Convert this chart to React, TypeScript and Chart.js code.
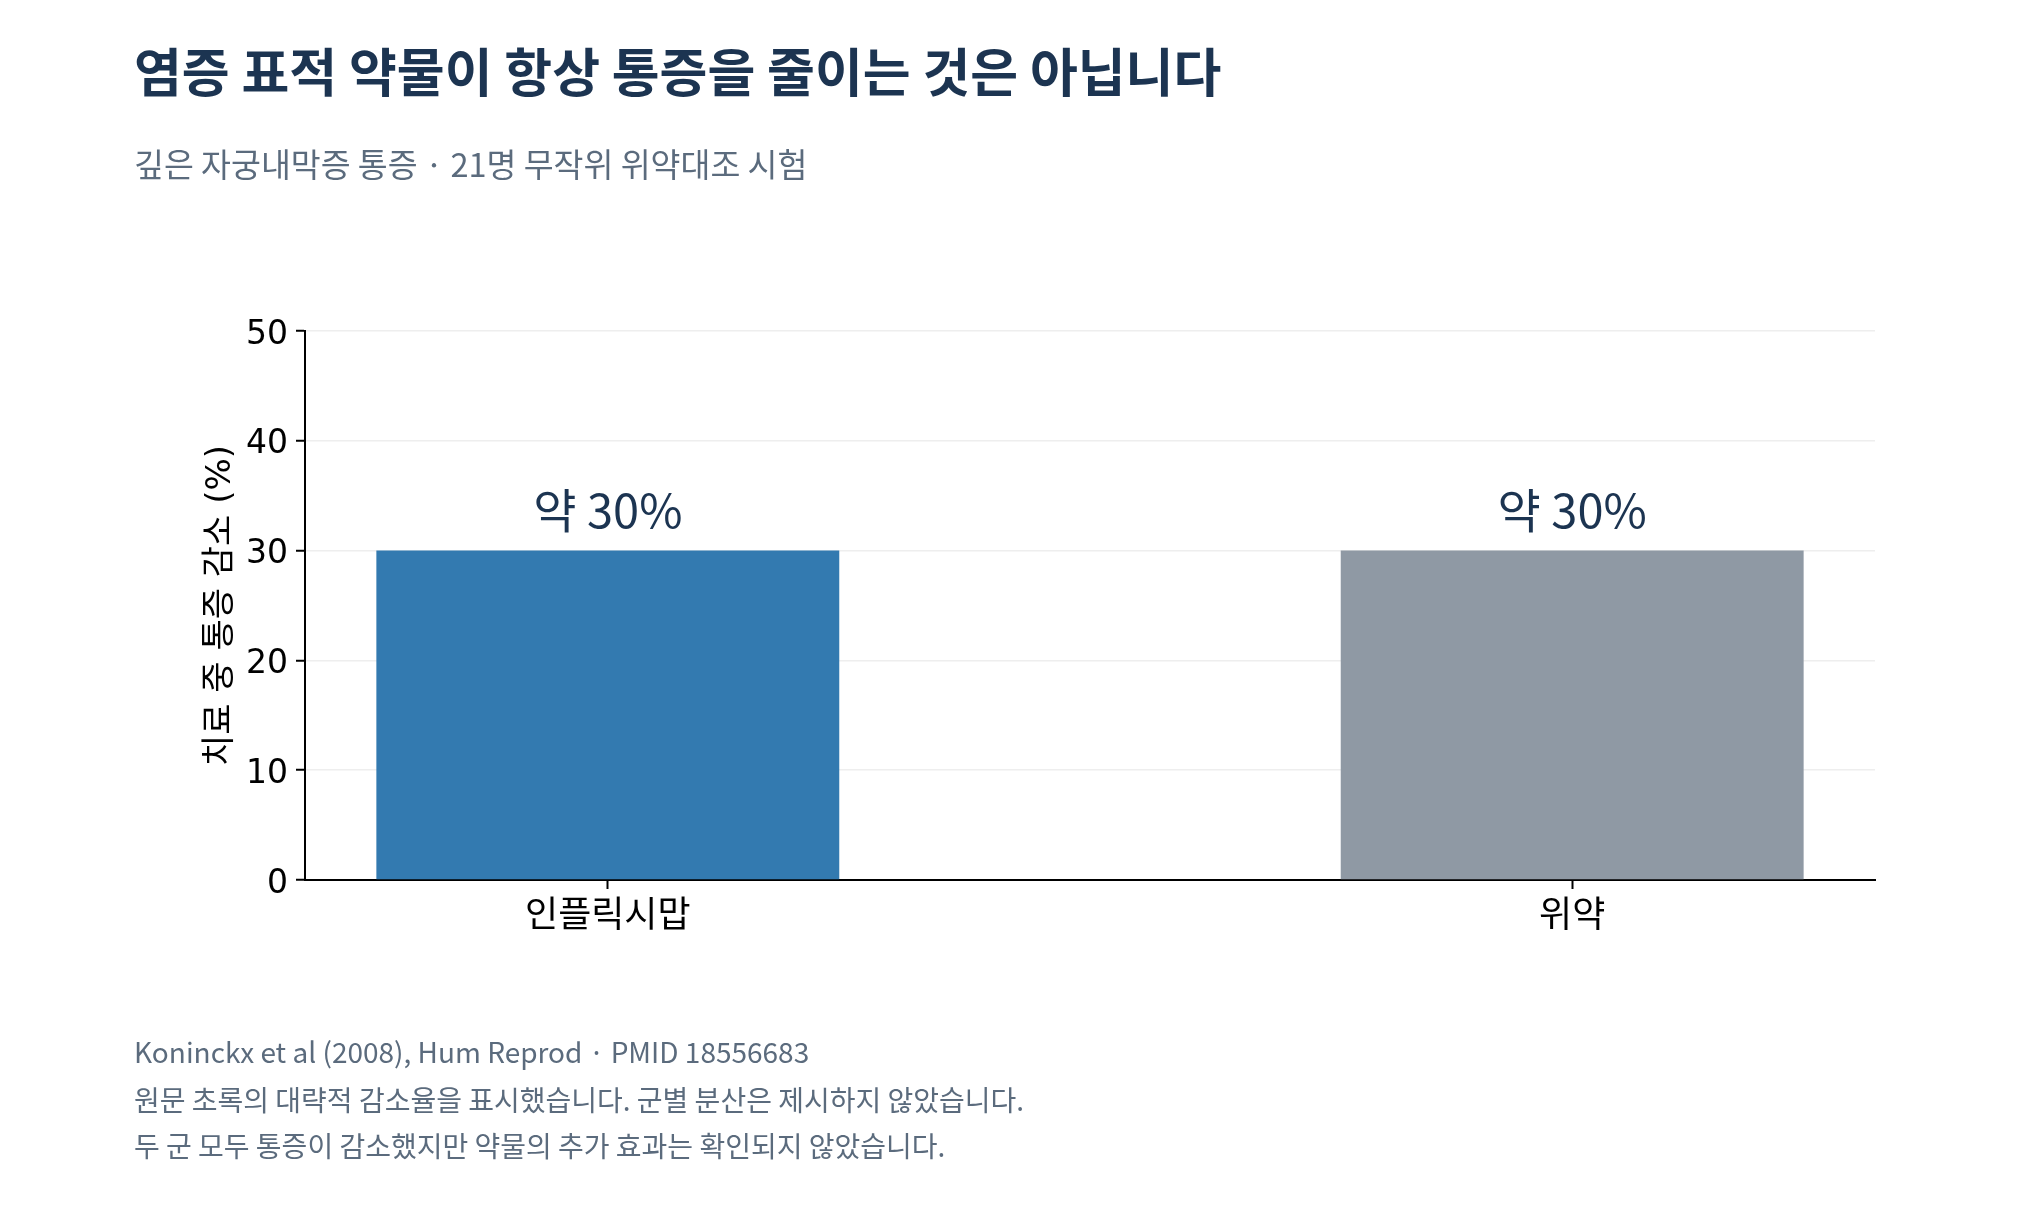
import React, { useEffect, useRef } from 'react';
import { Chart, registerables } from 'chart.js';

Chart.register(...registerables);

// Data
const categories = ['인플릭시맙', '위약'];
const reductionValues = [30, 30];
const valueLabels = ['약 30%', '약 30%'];
const barColors = ['#337ab0', '#8f99a4'];
const yTicks = [0, 10, 20, 30, 40, 50];

const titleText = '염증 표적 약물이 항상 통증을 줄이는 것은 아닙니다';
const subtitleText = '깊은 자궁내막증 통증 · 21명 무작위 위약대조 시험';
const yAxisTitle = '치료 중 통증 감소 (%)';
const footerLines = [
  'Koninckx et al (2008), Hum Reprod · PMID 18556683',
  '원문 초록의 대략적 감소율을 표시했습니다. 군별 분산은 제시하지 않았습니다.',
  '두 군 모두 통증이 감소했지만 약물의 추가 효과는 확인되지 않았습니다.',
];

const CJK = "'Noto Sans CJK KR'";
const AXIS_FONT = "'DejaVu Sans', 'Noto Sans CJK KR', sans-serif";
const NAVY = '#1c3451';
const MUTED = '#5b6b7d';

// Title, subtitle, footer and value labels drawn on the canvas
const textPlugin = {
  id: 'pageText',
  afterDatasetsDraw(chart: any) {
    const ctx = chart.ctx;
    const meta = chart.getDatasetMeta(0);
    ctx.save();
    ctx.font = `47px ${CJK}`;
    ctx.fillStyle = NAVY;
    ctx.textAlign = 'center';
    ctx.textBaseline = 'middle';
    meta.data.forEach((bar: any, i: number) => {
      ctx.fillText(valueLabels[i], bar.x, bar.y - 40);
    });
    ctx.restore();
  },
  afterDraw(chart: any) {
    const ctx = chart.ctx;
    ctx.save();
    ctx.textAlign = 'left';
    ctx.textBaseline = 'middle';

    ctx.font = `bold 52px ${CJK}`;
    ctx.fillStyle = NAVY;
    ctx.fillText(titleText, 134, 72);

    ctx.font = `32.5px ${CJK}`;
    ctx.fillStyle = MUTED;
    ctx.fillText(subtitleText, 134, 165);

    ctx.font = `28px ${CJK}`;
    const footerY = [1052, 1100, 1146];
    footerLines.forEach((line, i) => ctx.fillText(line, 134, footerY[i]));
    ctx.restore();
  },
};

const App: React.FC = () => {
  const canvasRef = useRef<HTMLCanvasElement>(null);
  const chartRef = useRef<Chart | null>(null);

  useEffect(() => {
    document.body.style.margin = '0';
    document.body.style.background = '#ffffff';
    const ctx = canvasRef.current?.getContext('2d');
    if (!ctx) return;

    if (chartRef.current) {
      chartRef.current.destroy();
    }

    chartRef.current = new Chart(ctx, {
      type: 'bar',
      data: {
        datasets: [
          {
            label: '통증 감소',
            data: categories.map((_, i) => ({ x: i, y: reductionValues[i] })),
            backgroundColor: barColors,
            borderWidth: 0,
            barPercentage: 0.48,
            categoryPercentage: 1,
          },
        ],
      },
      options: {
        animation: false,
        responsive: false,
        devicePixelRatio: 1,
        layout: {
          padding: { left: 185, right: 165, top: 331, bottom: 264 },
        },
        plugins: {
          legend: { display: false },
          tooltip: { enabled: false },
        },
        scales: {
          x: {
            type: 'linear',
            min: -0.314,
            max: 1.314,
            offset: false,
            afterBuildTicks: (scale: any) => {
              scale.ticks = categories.map((_, i) => ({ value: i }));
            },
            afterFit: (scale: any) => {
              scale.height = 80;
            },
            grid: {
              display: true,
              offset: false,
              drawOnChartArea: false,
              drawTicks: true,
              tickLength: 9,
              tickColor: '#000000',
              tickWidth: 2,
            },
            border: { display: true, color: '#000000', width: 2 },
            ticks: {
              callback: (value: any) => categories[Number(value)] ?? '',
              font: { family: AXIS_FONT, size: 36 },
              color: '#000000',
              padding: 7,
              maxRotation: 0,
              autoSkip: false,
            },
          },
          y: {
            min: 0,
            max: 50,
            afterBuildTicks: (scale: any) => {
              scale.ticks = yTicks.map((v) => ({ value: v }));
            },
            afterFit: (scale: any) => {
              scale.width = 120;
            },
            grid: {
              color: '#eeeeee',
              lineWidth: 1.5,
              tickColor: '#000000',
              tickLength: 9,
              tickWidth: 2,
            },
            border: { display: true, color: '#000000', width: 2 },
            ticks: {
              font: { family: AXIS_FONT, size: 33 },
              color: '#000000',
              padding: 8,
              labelOffset: 4,
            },
            title: {
              display: true,
              text: yAxisTitle,
              font: { family: AXIS_FONT, size: 34 },
              color: '#000000',
              padding: { top: 16, bottom: 0 },
            },
          },
        },
      },
      plugins: [textPlugin],
    });

    return () => {
      if (chartRef.current) {
        chartRef.current.destroy();
        chartRef.current = null;
      }
    };
  }, []);

  return (
    <div style={{ width: 2040, height: 1224, overflow: 'hidden', background: '#ffffff' }}>
      <canvas ref={canvasRef} width={2040} height={1224} style={{ display: 'block' }} />
    </div>
  );
};

export default App;
